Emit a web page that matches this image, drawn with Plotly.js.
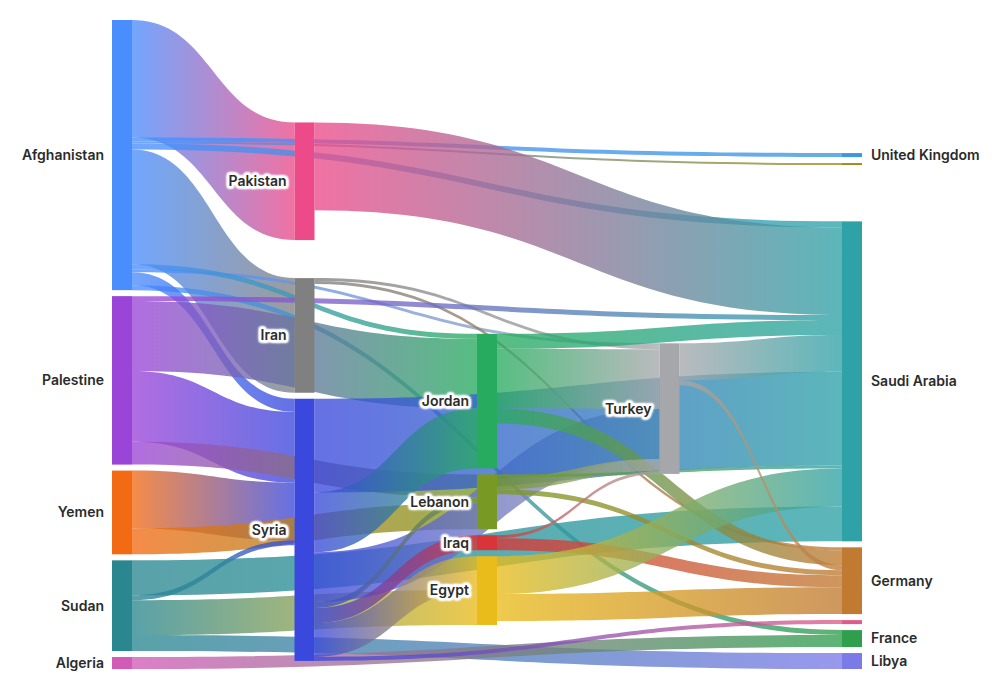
<!DOCTYPE html>
<html>
<head>
<meta charset="utf-8">
<script src="https://cdn.plot.ly/plotly-3.0.1.min.js"></script>
<style>
  html, body { margin: 0; padding: 0; background: #fff; }
</style>
</head>
<body>
<div id="chart" style="width:993px;height:694px;"></div>
<script>
// nodes: 0-4 origins, 5-7 first stop, 8-11 second stop, 12 Turkey, 13-19 destinations
const nodeLabels = [
  'Afghanistan', 'Palestine', 'Yemen', 'Sudan', 'Algeria',
  'Pakistan', 'Iran', 'Syria',
  'Jordan', 'Lebanon', 'Iraq', 'Egypt',
  'Turkey',
  'United Kingdom', '', 'Saudi Arabia', 'Germany', '', 'France', 'Libya',
];
const nodeColors = [
  '#4a8dfd', '#9b44d8', '#f26b14', '#2a8790', '#d25bb8',
  '#ec4a89', '#808080', '#3a48dd',
  '#27ab5f', '#789a24', '#d93438', '#e9bb1b',
  '#a6a7ab',
  '#3b97df', '#9b8d1c', '#2ea2a6', '#c07a32', '#e05c88', '#2f9e4d', '#7b7be8',
];

// flows (from -> to)
const linkSource = [0, 0, 0, 0, 0, 0, 0, 0, 0,
  5, 6, 6,
  1, 1, 1, 1,
  2, 2,
  3, 3, 3, 3,
  4,
  7, 7, 7, 7, 7, 7, 7,
  8, 8, 8,
  9, 9, 9,
  10, 10,
  11, 11,
  12, 12];
const linkTarget = [5, 13, 14, 15, 6, 12, 8, 18, 7,
  15, 12, 16,
  15, 8, 7, 9,
  7, 9,
  7, 11, 15, 19,
  18,
  12, 15, 8, 9, 10, 11, 17,
  15, 16, 12,
  12, 15, 16,
  12, 16,
  15, 16,
  15, 16];
const linkValue = [118, 4, 2, 6, 115, 3, 5, 5, 13,
  88, 3, 3,
  5, 70, 71, 23,
  58, 26,
  5, 35, 35, 16,
  12,
  50, 94, 60, 6, 15, 34, 4,
  15, 15, 60,
  12, 3, 5,
  3, 12,
  38, 27,
  37, 5];

const gd = document.getElementById('chart');
const labelFont = 'Inter, "Open Sans", sans-serif';

const data = [{
  type: 'sankey',
  orientation: 'h',
  arrangement: 'snap',
  node: {
    label: nodeLabels,
    color: nodeColors,
    pad: 6,
    thickness: 20,
    line: { width: 0 },
  },
  link: {
    source: linkSource,
    target: linkTarget,
    value: linkValue,
    color: linkSource.map(() => 'rgba(160,160,160,0.6)'),
    line: { width: 0 },
  },
  textfont: {
    family: labelFont,
    size: 14,
    color: '#2b2b2b',
    weight: 600,
    shadow: '1px 1px 2px #fff, -1px -1px 2px #fff, 1px -1px 2px #fff, -1px 1px 2px #fff',
  },
}];

const layout = {
  width: 993,
  height: 694,
  margin: { l: 112, r: 131, t: 20, b: 25 },
  paper_bgcolor: '#fff',
  font: { family: labelFont },
};

// Plotly has no gradient links, so swap each link fill for a source->target gradient
function paintLinks() {
  const svg = gd.querySelector('svg.main-svg');
  let defs = svg.querySelector('defs');
  if (!defs) {
    defs = document.createElementNS('http://www.w3.org/2000/svg', 'defs');
    svg.insertBefore(defs, svg.firstChild);
  }
  gd.querySelectorAll('.sankey-link').forEach(function (el) {
    const d = el.__data__;
    if (!d || !d.link) return;
    const s = d.link.source.pointNumber;
    const t = d.link.target.pointNumber;
    const id = 'lg-' + s + '-' + t;
    if (!document.getElementById(id)) {
      const g = document.createElementNS('http://www.w3.org/2000/svg', 'linearGradient');
      g.setAttribute('id', id);
      g.setAttribute('x1', '0');
      g.setAttribute('x2', '1');
      g.setAttribute('y1', '0');
      g.setAttribute('y2', '0');
      [[0, nodeColors[s]], [1, nodeColors[t]]].forEach(function (st) {
        const stop = document.createElementNS('http://www.w3.org/2000/svg', 'stop');
        stop.setAttribute('offset', st[0]);
        stop.setAttribute('stop-color', st[1]);
        stop.setAttribute('stop-opacity', '0.78');
        g.appendChild(stop);
      });
      defs.appendChild(g);
    }
    el.style.fill = 'url(#' + id + ')';
    el.style.fillOpacity = 1;
  });
}

// labels on the left of every node except the last column, white halo behind them
function moveLabels() {
  gd.querySelectorAll('.sankey-node').forEach(function (g) {
    const d = g.__data__;
    const rect = g.querySelector('.node-rect');
    const text = g.querySelector('.node-label');
    if (!d || !rect || !text) return;
    const w = +rect.getAttribute('width');
    const sink = d.node.sourceLinks.length === 0;
    const m = /translate\(\s*([-\d.e]+)[ ,]+([-\d.e]+)\s*\)/.exec(text.getAttribute('transform') || '');
    const y = m ? m[2] : 0;
    if (sink) {
      text.setAttribute('text-anchor', 'start');
      text.setAttribute('transform', 'translate(' + (w + 9) + ',' + y + ')');
    } else {
      text.setAttribute('text-anchor', 'end');
      text.setAttribute('transform', 'translate(-8,' + y + ')');
      text.setAttribute('stroke', '#fff');
      text.setAttribute('stroke-width', '3.5');
      text.setAttribute('stroke-linejoin', 'round');
      text.setAttribute('paint-order', 'stroke');
      text.style.stroke = '#fff';
      text.style.strokeWidth = '3.5px';
      text.style.strokeLinejoin = 'round';
      text.style.paintOrder = 'stroke';
    }
  });
}

function finish() {
  paintLinks();
  moveLabels();
}

Plotly.newPlot(gd, data, layout, { displayModeBar: false }).then(function () {
  finish();
  setTimeout(finish, 600);
  setTimeout(finish, 1200);
});
</script>
</body>
</html>
